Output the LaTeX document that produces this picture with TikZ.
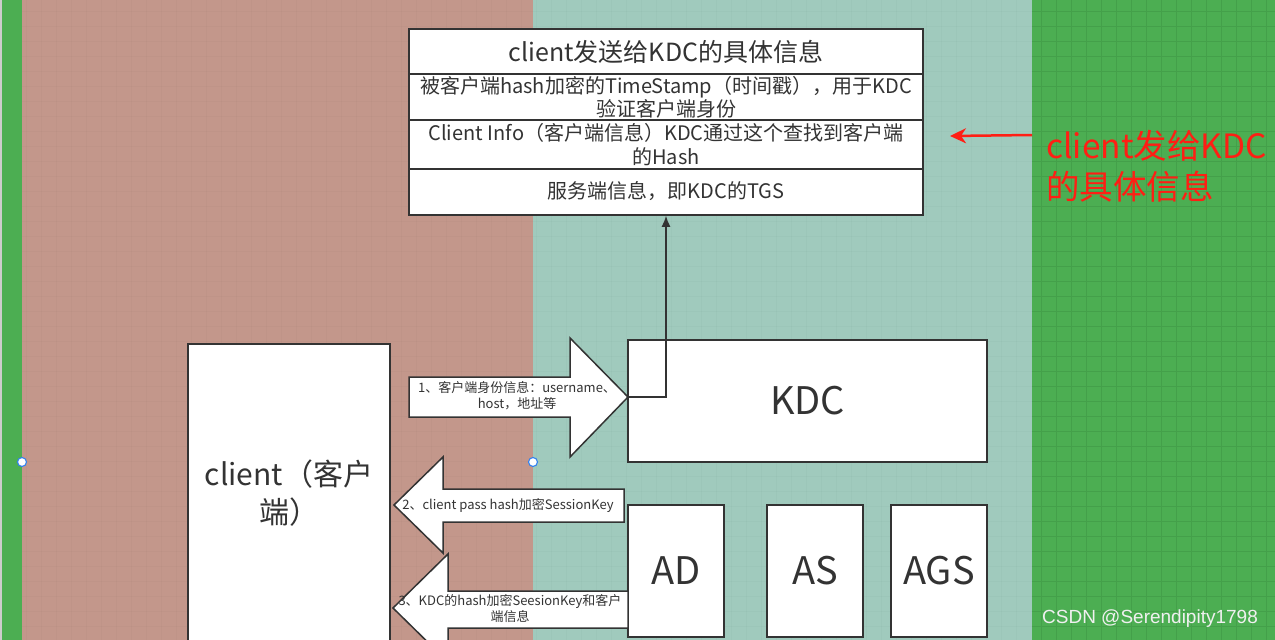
\documentclass[tikz,border=0pt]{standalone}
\usepackage{fontspec}
\setmainfont{Noto Sans CJK SC}
\newfontfamily\wmfont{Liberation Sans}
\usetikzlibrary{arrows.meta}
\definecolor{brownbg}{RGB}{195,151,139}
\definecolor{tealbg}{RGB}{160,202,189}
\definecolor{greenbg}{RGB}{76,174,82}
\definecolor{gridgreen}{RGB}{68,160,74}
\definecolor{lc}{RGB}{51,51,51}
\definecolor{redtxt}{RGB}{255,30,20}
\definecolor{handle}{RGB}{50,130,240}
\tikzset{
  box/.style={draw=lc, fill=white, line width=1.5pt, inner sep=0pt, text=lc},
  shapeline/.style={draw=lc, fill=white, line width=1.5pt},
  txt/.style={text=lc, inner sep=0pt, align=center},
  minorgrid/.style={draw=gridgreen, line width=0.8pt},
  majorgrid/.style={draw=gridgreen, line width=1.3pt},
  faintgrid/.style={draw=black, opacity=0.018, line width=0.8pt},
  selhandle/.style={circle, draw=handle, fill=white, line width=1.1pt, minimum size=9pt, inner sep=0pt}
}
\begin{document}
\begin{tikzpicture}[x=1pt,y=-1pt]
\useasboundingbox (0,0) rectangle (1275,640);
\clip (0,0) rectangle (1275,640);
% backgrounds
\fill[gray!40] (0,0) rectangle (1.5,640);
\fill[greenbg] (1.5,0) rectangle (22,640);
\fill[brownbg] (22,0) rectangle (533,640);
\fill[tealbg] (533,0) rectangle (1032,640);
\fill[greenbg] (1032,0) rectangle (1275,640);
% faint grid on brown and teal
\foreach \g in {26.7,41.7,...,1031} {\draw[faintgrid] (\g,0) -- (\g,640);}
\foreach \g in {11.7,26.7,...,640} {\draw[faintgrid] (22,\g) -- (1032,\g);}
% grid on green
\foreach \g in {1041.7,1056.7,...,1275} {\draw[minorgrid] (\g,0) -- (\g,640);}
\foreach \g in {11.7,26.7,...,640} {\draw[minorgrid] (1032,\g) -- (1275,\g);}
\foreach \g in {1101.7,1161.7,1221.7} {\draw[majorgrid] (\g,0) -- (\g,640);}
\foreach \g in {41.7,101.7,...,640} {\draw[majorgrid] (1032,\g) -- (1275,\g);}

% table
\node[box, minimum width=514pt, minimum height=45pt] (t1) at (666,51.5) {};
\node[box, minimum width=514pt, minimum height=46pt] (t2) at (666,97) {};
\node[box, minimum width=514pt, minimum height=49pt] (t3) at (666,144.5) {};
\node[box, minimum width=514pt, minimum height=46pt] (t4) at (666,192) {};
\node[txt, font=\fontsize{25}{30}\selectfont] (t1txt) at (666,52) {client发送给KDC的具体信息};
\node[txt, font=\fontsize{20}{21}\selectfont] (t2txt) at (666,97.5) {被客户端hash加密的TimeStamp（时间戳），用于KDC\\验证客户端身份};
\node[txt, font=\fontsize{20}{24}\selectfont] (t3txt) at (666,145) {Client Info（客户端信息）KDC通过这个查找到客户端\\的Hash};
\node[txt, font=\fontsize{20}{21}\selectfont] (t4txt) at (666,191) {服务端信息，即KDC的TGS};

% client
\node[box, minimum width=202pt, minimum height=356pt] (client) at (289,522) {};
\node[txt, font=\fontsize{30}{38}\selectfont] (clienttxt) at (289,493) {client（客户\\端）};

% KDC and sub boxes
\node[box, minimum width=359pt, minimum height=122pt, font=\fontsize{38}{44}\selectfont] (kdc) at (807.5,401) {KDC};
\node[box, minimum width=96pt, minimum height=132pt, font=\fontsize{38}{44}\selectfont] (ad) at (676,571) {AD};
\node[box, minimum width=96pt, minimum height=132pt, font=\fontsize{38}{44}\selectfont] (as) at (815,571) {AS};
\node[box, minimum width=96pt, minimum height=132pt, font=\fontsize{38}{44}\selectfont] (ags) at (939,571) {AGS};

% big arrow 1 (to KDC)
\coordinate (tip1) at (628,397);
\draw[shapeline] (409,377) -- (570,377) -- (570,338) -- (tip1) -- (570,457) -- (570,417) -- (409,417) -- cycle;
\node[txt, font=\fontsize{13}{16}\selectfont] (a1) at (517,396) {1、客户端身份信息：username、\\host，地址等};

% big arrow 2 (to client)
\draw[shapeline] (624,489) -- (443,489) -- (443,457) -- (394,505) -- (443,553) -- (443,522) -- (624,522) -- cycle;
\node[txt, font=\fontsize{13}{16}\selectfont] (a2) at (508,505) {2、client pass hash加密SessionKey};

% big arrow 3 (to client)
\draw[shapeline] (628,591) -- (448,591) -- (448,554) -- (393,608) -- (448,662) -- (448,628) -- (628,628) -- cycle;
\node[txt, font=\fontsize{13}{16}\selectfont] (a3) at (510,609) {3、KDC的hash加密SeesionKey和客户\\端信息};

% connector KDC -> table
\coordinate (bend) at (666,397);
\draw[lc, line width=1.5pt, -{Latex[length=11pt,width=9pt]}] (tip1) -- (bend) -- (bend |- t4.south);

% red annotation
\node[anchor=north west, inner sep=0pt, align=left, text=redtxt, font=\fontsize{33.5}{41}\selectfont] (note) at (1046,130) {client发给KDC\\的具体信息};
\coordinate (rtail) at (1032,135);
\coordinate (rtip) at (950,136);
\draw[redtxt, line width=2.5pt, -{Stealth[length=16pt,width=15pt,inset=5pt]}] (rtail) -- (rtip);

% selection handles
\node[selhandle] (h1) at (22,462) {};
\node[selhandle] (h2) at (533,462) {};

% watermark
\node[text=white!88!gray, inner sep=0pt, font=\wmfont\fontsize{19}{22}\selectfont] (wm) at (1150,619) {CSDN @Serendipity1798};
\end{tikzpicture}
\end{document}
